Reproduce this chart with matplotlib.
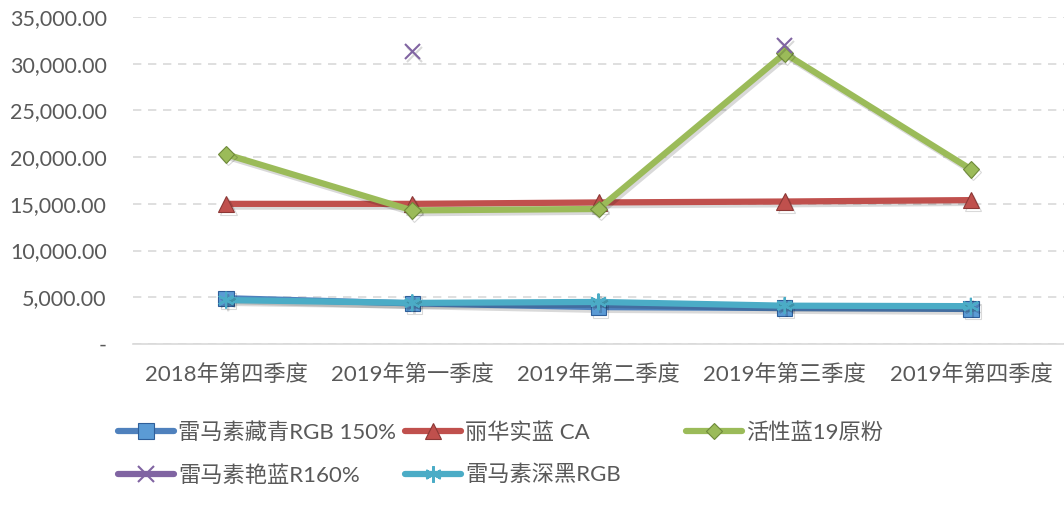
import numpy as np
import matplotlib
matplotlib.use("Agg")
import matplotlib.pyplot as plt
import matplotlib.patheffects as pe
from matplotlib.ticker import FuncFormatter, MultipleLocator
from matplotlib.lines import Line2D

plt.rcParams['font.family'] = ['Lato', 'Noto Sans CJK SC', 'DejaVu Sans']

categories = ["2018年第四季度", "2019年第一季度", "2019年第二季度", "2019年第三季度", "2019年第四季度"]
series_names = ["雷马素藏青RGB 150%", "丽华实蓝 CA", "活性蓝19原粉", "雷马素艳蓝R160%", "雷马素深黑RGB"]
navy_rgb150 = [4900, 4350, 3950, 3850, 3750]
lihua_ca = [15000, 15000, 15150, 15250, 15400]
blue19 = [20300, 14300, 14450, 31100, 18700]
brilliant_r160 = [np.nan, 31300, np.nan, 31950, np.nan]
black_rgb = [4700, 4400, 4500, 4100, 4050]

values = [navy_rgb150, lihua_ca, blue19, brilliant_r160, black_rgb]
colors = ["#4F81BD", "#C0504D", "#9BBB59", "#8064A2", "#4BACC6"]
markers = ["s", "^", "D", "x", (6, 2, 0)]
msizes = [11, 12, 8.5, 11, 12]
mfaces = ["#5B9BD5", "#C0504D", "#9BBB59", "#8064A2", "#4BACC6"]
medges = ["#2F5F9A", "#8C3836", "#6F8A3A", "#8064A2", "#4BACC6"]

fig = plt.figure(figsize=(10.64, 5.07), dpi=100)
ax = fig.add_axes([0.125, 0.3215, 0.875, 0.645])

x = np.arange(len(categories))
shadow = [pe.SimpleLineShadow(offset=(1.5, -2), alpha=0.15, shadow_color='black'), pe.Normal()]
for i, (name, vals) in enumerate(zip(series_names, values)):
    ax.plot(x, vals, color=colors[i], lw=4.5, marker=markers[i], ms=msizes[i],
            mfc=mfaces[i], mec=medges[i], mew=1.5 if i in (3, 4) else 0.8,
            solid_capstyle='round', zorder=3 + i, label=name,
            path_effects=shadow)

ax.set_xlim(-0.5, len(categories) - 0.5)
ax.set_ylim(0, 35000)
ax.yaxis.set_major_locator(MultipleLocator(5000))
ax.yaxis.set_major_formatter(FuncFormatter(lambda v, p: "-" if v == 0 else f"{v:,.2f}"))
ax.set_xticks(x)
ax.set_xticklabels(categories)
ax.tick_params(axis='both', length=0, colors='#595959')
ax.tick_params(axis='y', pad=19, labelsize=15.5)
ax.tick_params(axis='x', pad=14, labelsize=16)
ax.grid(axis='y', color='#D9D9D9', ls=(0, (5, 4)), lw=1.2)
ax.set_axisbelow(True)
for s in ['top', 'right', 'left']:
    ax.spines[s].set_visible(False)
ax.spines['bottom'].set_color('#D9D9D9')
ax.spines['bottom'].set_linewidth(1.2)

def legend_handle(i):
    return Line2D([0], [0], color=colors[i], lw=4.5, marker=markers[i], ms=msizes[i],
                  mfc=mfaces[i], mec=medges[i], mew=1.5 if i in (3, 4) else 0.8,
                  solid_capstyle='round')

groups = [([0, 3], 118), ([1, 4], 405), ([2], 686)]
for idxs, xpix in groups:
    fig.legend([legend_handle(i) for i in idxs], [series_names[i] for i in idxs],
               loc='upper left', bbox_to_anchor=(xpix / 1064, 1 - 422 / 507),
               frameon=False, fontsize=16, handlelength=2.5, handletextpad=0.2,
               labelspacing=1.0, borderaxespad=0, borderpad=0, labelcolor='#595959')

fig.savefig("out.png", dpi=100)
